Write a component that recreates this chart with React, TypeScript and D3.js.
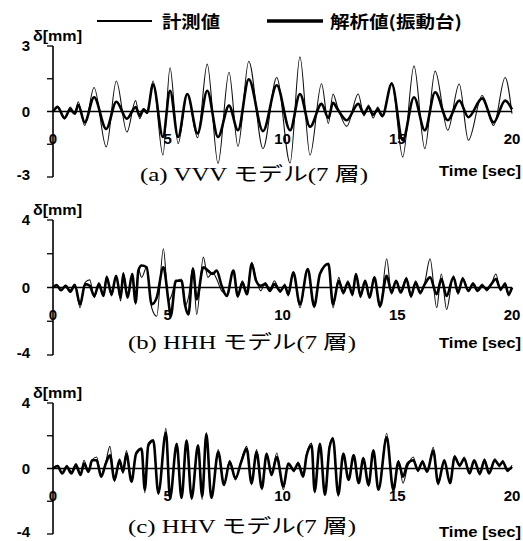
import React from "react";
import * as d3 from "d3";

// (a) VVV model: extreme points of the two traces [sec], [mm]
const timesA = [0, 0.2, 0.5, 0.75, 0.95, 1.1, 1.38, 1.79, 2.32, 2.76, 3.22, 3.6, 3.78, 3.95, 4.1, 4.36, 4.79, 5.1, 5.45, 5.85, 6.3, 6.72, 7.19, 7.67, 8.06, 8.53, 9.15, 9.75, 10.33, 10.76, 11.2, 11.7, 12.0, 12.2, 12.4, 12.8, 13.3, 13.55, 13.75, 13.95, 14.15, 14.35, 14.76, 15.24, 15.73, 16.2, 16.65, 17.2, 17.7, 18.1, 18.7, 19.2, 19.7, 20];
const measuredA = [0, 0.25, -0.35, 0.2, -0.1, 0.45, -0.64, 1.1, -1.62, 1.4, -0.94, 0.5, -0.33, 0.1, -0.1, 1.4, -2.0, 2.0, -1.47, 0.8, -1.2, 2.17, -2.38, 1.8, -1.6, 2.3, -1.7, 1.56, -2.36, 2.5, -2.0, 1.27, -0.55, 0.8, 0.2, -0.68, 0.8, -0.2, 0.3, -0.3, 0.2, -0.25, 1.33, -2.08, 2.09, -1.7, 1.85, -0.86, 1.26, -1.32, 0.73, -0.64, 1.56, -0.1];
const analysisA = [0, 0.2, -0.3, 0.1, -0.1, 0.3, -0.5, 0.65, -0.8, 0.45, -0.33, 0.2, -0.2, 0.1, -0.05, 1.25, -1.17, 0.95, -1.17, 0.8, -1.0, 0.95, -1.17, 0.27, -0.86, 1.48, -0.9, 1.2, -0.86, 0.8, -0.7, 0.35, -0.3, 0.4, 0.1, -0.4, 0.35, -0.1, 0.2, -0.15, 0.1, -0.2, 1.27, -1.32, 0.65, -0.86, 0.88, -0.4, 0.5, -0.26, 0.6, -0.5, 0.5, 0.1];

// (b) HHH model
const timesB = [0, 0.15, 0.35, 0.55, 0.75, 0.95, 1.18, 1.4, 1.6, 1.8, 2.0, 2.2, 2.34, 2.55, 2.75, 2.95, 3.06, 3.25, 3.45, 3.6, 3.72, 3.86, 4.08, 4.3, 4.52, 4.81, 5.03, 5.13, 5.35, 5.6, 5.75, 5.9, 6.1, 6.26, 6.55, 6.75, 6.95, 7.13, 7.35, 7.57, 7.86, 8.05, 8.25, 8.45, 8.66, 8.85, 9.05, 9.25, 9.45, 9.65, 9.9, 10.1, 10.25, 10.47, 10.76, 11.1, 11.38, 11.63, 12.0, 12.2, 12.45, 12.65, 12.85, 13.05, 13.2, 13.4, 13.6, 13.8, 14.0, 14.25, 14.54, 14.75, 14.95, 15.15, 15.4, 15.6, 15.8, 16.0, 16.2, 16.43, 16.72, 16.92, 17.15, 17.45, 17.65, 17.85, 18.1, 18.3, 18.5, 18.7, 18.9, 19.1, 19.3, 19.5, 19.7, 19.85, 20];
const measuredB = [0, 0.1, -0.2, 0.15, -0.15, 0.2, -1.2, 0.3, 0.45, -0.6, 0.3, -0.4, 0.7, -0.5, 0.6, -0.8, 0.9, -0.4, 0.7, -1.0, 1.1, 0.6, 1.2, -1.2, -1.7, 2.3, -0.8, -0.6, 0.3, 0.5, -1.1, -0.6, 1.2, -1.6, 1.8, 0.6, 0.9, 0.5, -0.2, -0.4, 1.0, -0.6, 0.4, -0.3, 1.5, 0.5, -0.2, 0.3, -0.1, 0.4, -0.3, 0.2, -0.5, 0.9, -1.2, 1.1, -1.2, 0.8, 1.4, -1.2, 0.6, -0.4, 0.4, -0.5, 0.8, -0.6, 0.4, -0.5, 0.6, -1.2, 1.7, -0.4, 0.4, -0.2, 0.6, -0.6, 0.4, -0.4, 0.3, 1.7, -1.2, 0.8, -1.3, 0.7, -0.4, 0.6, -0.2, 0.3, -0.1, 0.2, -0.2, 0.2, 0.8, -0.2, 0.3, -0.5, 0];
const analysisB = [0, 0.15, -0.15, 0.1, -0.25, 0.15, -1.0, 0.2, 0.1, -0.5, 0.2, -0.5, 0.6, -0.4, 0.7, -0.6, 0.8, -0.6, 0.8, -0.9, 1.0, 1.3, 1.2, -1.0, -0.6, 1.2, -0.8, -1.7, 0.4, 0.4, -1.0, -1.6, 1.1, -0.7, 1.2, 1.0, 0.8, 1.0, 0.1, -0.5, 1.0, -0.5, 0.3, -0.4, 1.4, 0.4, 0.1, 0.2, -0.2, 0.2, -0.2, 0.1, -0.4, 0.9, -1.0, 1.1, -1.1, 0.8, 1.4, -1.0, 0.4, -0.3, 0.3, -0.4, 0.8, -0.5, 0.4, -0.6, 0.6, -1.1, 0.7, -0.3, 0.4, -0.3, 0.5, -0.5, 0.3, -0.3, 0.2, 0.6, -0.4, 0.5, -0.5, 0.6, -0.3, 0.5, -0.2, 0.2, -0.2, 0.1, -0.1, 0.2, 0.5, -0.1, 0.2, -0.4, 0];

// (c) HHV model
const timesC = [0, 0.2, 0.4, 0.6, 0.8, 1.0, 1.2, 1.35, 1.55, 1.7, 1.9, 2.1, 2.3, 2.48, 2.68, 2.9, 3.05, 3.2, 3.42, 3.62, 3.86, 4.0, 4.15, 4.37, 4.59, 4.92, 5.1, 5.39, 5.6, 5.82, 6.04, 6.32, 6.5, 6.68, 6.9, 7.2, 7.45, 7.7, 7.95, 8.2, 8.44, 8.65, 8.87, 9.1, 9.31, 9.52, 9.75, 10.04, 10.25, 10.5, 10.68, 10.9, 11.05, 11.27, 11.4, 11.63, 11.85, 12.05, 12.2, 12.43, 12.65, 12.88, 13.1, 13.32, 13.52, 13.75, 13.96, 14.18, 14.54, 14.83, 15.05, 15.25, 15.45, 15.7, 15.9, 16.1, 16.3, 16.57, 16.78, 17.05, 17.3, 17.5, 17.72, 17.92, 18.15, 18.35, 18.6, 18.8, 19.0, 19.25, 19.45, 19.6, 19.8, 20];
const measuredC = [0, 0.2, -0.3, 0.2, -0.2, 0.3, -0.3, 0.5, -0.2, 0.5, 0.7, -0.4, 0.4, 1.35, -0.8, 0.6, -0.3, 1.1, -0.8, 1.0, 1.25, -1.5, 1.55, 1.75, -1.6, 2.45, -1.8, 1.55, -1.8, 1.75, -1.9, 1.45, -1.9, 2.2, -1.8, 1.15, -1.0, 0.5, -0.7, 0.5, 1.35, -1.0, 1.15, -1.3, 0.95, -0.3, 0.95, -1.3, 0.3, -0.2, 0.4, -0.3, 0.9, 1.55, -1.5, 1.55, -1.6, 1.4, 1.9, -1.7, 0.95, -0.7, 0.85, -0.9, 0.7, -1.1, 1.15, -1.3, 2.15, -1.5, 0.5, -0.9, 0.1, 0.7, -0.2, 0.5, -0.2, 1.3, -1.0, 0.5, -0.9, 0.8, 0.1, 0.7, -0.3, 0.4, -0.4, 0.6, -0.3, 0.6, 0.1, 0.5, -0.2, 0.2];
const analysisC = [0, 0.15, -0.3, 0.1, -0.3, 0.2, -0.4, 0.3, -0.2, 0.5, 0.5, -0.5, 0.3, 0.8, -0.7, 0.5, -0.2, 0.9, -0.8, 0.9, 1.2, -1.3, 1.4, 1.7, -1.5, 2.2, -1.8, 1.5, -1.8, 1.7, -1.8, 1.4, -1.7, 2.1, -1.8, 1.0, -1.0, 0.4, -0.6, 0.4, 1.2, -0.9, 1.0, -1.2, 0.9, -0.4, 0.7, -1.1, 0.3, -0.1, 0.3, -0.5, 0.8, 1.4, -1.4, 1.5, -1.6, 1.3, 1.8, -1.6, 0.9, -0.7, 0.8, -0.9, 0.6, -1.0, 1.1, -1.3, 1.9, -1.3, 0.4, -0.5, 0.3, 0.5, -0.1, 0.4, -0.2, 1.1, -0.9, 0.5, -0.9, 0.7, 0.2, 0.6, -0.3, 0.5, -0.3, 0.5, -0.3, 0.5, 0.2, 0.4, -0.1, 0.1];

const xTicks = [0, 5, 10, 15, 20];
const legendLabels = ["計測値", "解析値(振動台)"];

const panels = [
  { times: timesA, measured: measuredA, analysis: analysisA, yMax: 3, top: 46, bottom: 177, caption: "(a) VVV モデル(7 層)", capY: 181, capX: 140, timeY: 176 },
  { times: timesB, measured: measuredB, analysis: analysisB, yMax: 4, top: 220, bottom: 355, caption: "(b) HHH モデル(7 層)", capY: 349, capX: 128, timeY: 348 },
  { times: timesC, measured: measuredC, analysis: analysisC, yMax: 4, top: 403, bottom: 534, caption: "(c) HHV モデル(7 層)", capY: 533, capX: 128, timeY: 537 },
];

const W = 523;
const H = 541;
const x0 = 53;
const x1 = 512;
const sans = "'Liberation Sans', Arial, sans-serif";
const cjk = "'Noto Sans CJK JP', sans-serif";
const serif = "'Liberation Serif', 'Noto Sans CJK JP', serif";

const x = d3.scaleLinear().domain([0, 20]).range([x0, x1]);

function Panel({ p }: { p: (typeof panels)[number] }) {
  const y = d3.scaleLinear().domain([-p.yMax, p.yMax]).range([p.bottom, p.top]);
  const line = (vals: number[]) =>
    d3.line<number>()
      .x((_, i) => x(p.times[i]))
      .y((v) => y(v))
      .curve(d3.curveMonotoneX)(vals) as string;
  const yTicks = [p.yMax, 0, -p.yMax];
  return (
    <g>
      <path d={line(p.measured)} fill="none" stroke="#111" strokeWidth={1.1} />
      <path d={line(p.analysis)} fill="none" stroke="#000" strokeWidth={2.6} strokeLinejoin="round" />
      {/* zero line and y axis */}
      <line x1={x0 - 6} x2={x1} y1={y(0)} y2={y(0)} stroke="#000" strokeWidth={1.6} />
      <line x1={x0} x2={x0} y1={y(p.yMax)} y2={y(-p.yMax)} stroke="#000" strokeWidth={1.6} />
      {[p.yMax, p.yMax / 2, -p.yMax / 2, -p.yMax].map((t) => (
        <line key={t} x1={x0 - 6} x2={x0} y1={y(t)} y2={y(t)} stroke="#000" strokeWidth={1.3} />
      ))}
      {yTicks.map((t) => (
        <text key={t} x={30} y={y(t) + (t < 0 ? 3 : 5)} textAnchor="end" fontFamily={sans} fontWeight="bold" fontSize={15}>
          {t}
        </text>
      ))}
      <text x={33} y={p.top - 5} fontFamily={sans} fontWeight="bold" fontSize={15} textLength={49} lengthAdjust="spacingAndGlyphs">
        δ[mm]
      </text>
      {xTicks.map((t) => (
        <text key={t} x={x(t)} y={y(0) + 32} textAnchor="middle" fontFamily={sans} fontWeight="bold" fontSize={15}>
          {t}
        </text>
      ))}
      <text x={p.capX} y={p.capY} fontFamily={serif} fontSize={19} textLength={228} lengthAdjust="spacingAndGlyphs">
        {p.caption}
      </text>
      <text x={439} y={p.timeY} fontFamily={sans} fontWeight="bold" fontSize={15} textLength={82} lengthAdjust="spacingAndGlyphs">
        Time [sec]
      </text>
    </g>
  );
}

export default function App() {
  return (
    <svg width={W} height={H} style={{ position: "absolute", left: 0, top: 0, background: "#fff" }}>
      {/* legend */}
      <line x1={97} x2={152} y1={21} y2={21} stroke="#000" strokeWidth={2} />
      <text x={162} y={28} fontFamily={cjk} fontWeight="bold" fontSize={17} textLength={58} lengthAdjust="spacingAndGlyphs">
        {legendLabels[0]}
      </text>
      <line x1={267} x2={323} y1={21} y2={21} stroke="#000" strokeWidth={3.5} />
      <text x={330} y={28} fontFamily={cjk} fontWeight="bold" fontSize={17} textLength={132} lengthAdjust="spacingAndGlyphs">
        {legendLabels[1]}
      </text>
      {panels.map((p, i) => (
        <Panel key={i} p={p} />
      ))}
    </svg>
  );
}
